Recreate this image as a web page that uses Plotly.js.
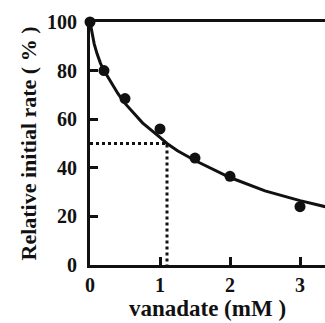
<!DOCTYPE html>
<html><head><meta charset="utf-8">
<script src="https://cdn.plot.ly/plotly-3.0.1.min.js"></script>
<style>html,body{margin:0;padding:0;background:#fff}</style>
</head><body><div id="chart" style="width:325px;height:323px"></div>
<script>
var dataX = [0, 0.2, 0.5, 1, 1.5, 2, 3];
var dataY = [100, 80, 68.5, 56, 44, 36.5, 24];
var fitX = [0, 0.03, 0.06, 0.1, 0.15, 0.2, 0.3, 0.4, 0.5, 0.75, 1, 1.1, 1.25, 1.5, 2, 2.5, 3, 3.36];
var fitY = [100, 95, 91, 87, 83, 80, 75, 70.5, 66.5, 58.5, 52.5, 50, 47, 43, 36, 30.5, 26.5, 24];
var ic50X = [0, 1.1, 1.1];
var ic50Y = [50, 50, 0];
var xTicks = [0, 1, 2, 3];
var yTicks = [0, 20, 40, 60, 80, 100];

var fam = 'Liberation Serif';
var tickFont = {family: fam, size: 20, color: '#111', weight: 'bold'};
var yTitleFont = {family: fam, size: 22, color: '#111', weight: 'bold'};
var xTitleFont = {family: fam, size: 23, color: '#111', weight: 'bold'};
var traces = [
  {x: ic50X, y: ic50Y, mode: 'lines', line: {color: '#111', width: 3, dash: 'dot'}, hoverinfo: 'skip', cliponaxis: false},
  {x: fitX, y: fitY, mode: 'lines', line: {color: '#111', width: 3}, cliponaxis: false},
  {x: dataX, y: dataY, mode: 'markers', marker: {color: '#111', size: 11}, cliponaxis: false}
];
var layout = {
  width: 325, height: 323,
  margin: {l: 90, r: 0, t: 22, b: 58},
  paper_bgcolor: '#fff', plot_bgcolor: '#fff',
  showlegend: false,
  font: tickFont,
  xaxis: {range: [0, 3.357], tickvals: xTicks, ticktext: xTicks.map(String), ticks: 'inside', ticklen: 8, tickwidth: 3, tickcolor: '#111',
    ticklabelstandoff: 0,
    showline: true, linewidth: 3, linecolor: '#111', mirror: true, showgrid: false, zeroline: false, tickfont: tickFont,
    title: {text: 'vanadate (mM )', font: xTitleFont, standoff: 4}},
  yaxis: {range: [0, 100], tickvals: yTicks, ticktext: yTicks.map(String), ticks: 'inside', ticklen: 8, tickwidth: 3, tickcolor: '#111',
    ticklabelstandoff: 6,
    showline: true, linewidth: 3, linecolor: '#111', showgrid: false, zeroline: false, tickfont: tickFont,
    title: {text: 'Relative initial rate ( % )', font: yTitleFont, standoff: 5}}
};
Plotly.newPlot('chart', traces, layout, {displayModeBar: false, staticPlot: true});
</script></body></html>
